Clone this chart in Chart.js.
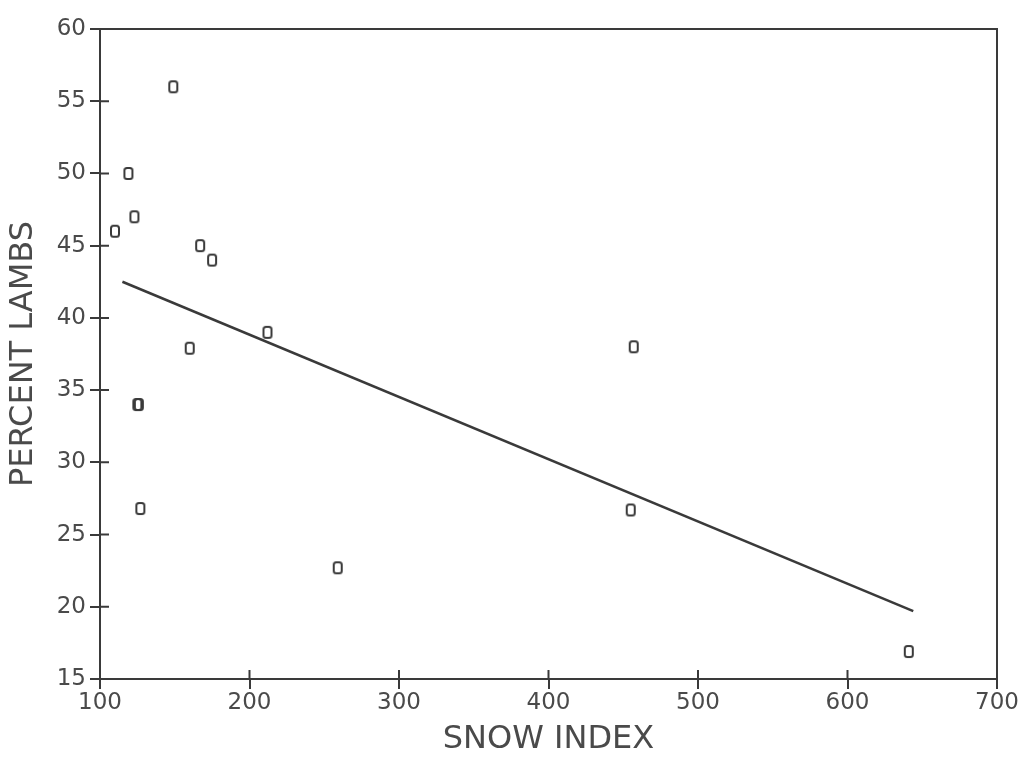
<!DOCTYPE html>
<html>
<head>
<meta charset="utf-8">
<script src="https://cdn.jsdelivr.net/npm/chart.js@4/dist/chart.umd.min.js"></script>
<style>
  html, body { margin: 0; padding: 0; background: #fff; }
  #grafico { display: block; }
</style>
</head>
<body>
<canvas id="grafico" width="1025" height="759"></canvas>
<script>
// valores
const snowIndex = [110, 119, 123, 125, 126, 127, 149, 160, 167, 175, 212, 259, 455, 457, 641];
const percentLambs = [46, 50, 47, 34, 34, 26.8, 56, 37.9, 45, 44, 39, 22.7, 26.7, 38, 16.9];

// reta de regressão (extremos)
const retaX = [115, 644];
const retaY = [42.5, 19.7];

const xTicks = [100, 200, 300, 400, 500, 600, 700];
const yTicks = [15, 20, 25, 30, 35, 40, 45, 50, 55, 60];

const corTraco = "#3a3a3a";
const corTexto = "#4a4a4a";

const pontos = snowIndex.map((x, i) => ({ x: x, y: percentLambs[i] }));
const reta = retaX.map((x, i) => ({ x: x, y: retaY[i] }));

// marcador tipo "0" do plotter
function criarMarcador() {
  const c = document.createElement("canvas");
  c.width = 12;
  c.height = 15;
  const g = c.getContext("2d");
  g.strokeStyle = corTraco;
  g.lineWidth = 2;
  g.beginPath();
  g.roundRect(2, 2, 8, 11, 2.5);
  g.stroke();
  return c;
}

// moldura + ticks que entram na área do gráfico
const moldura = {
  id: "moldura",
  afterDraw(chart) {
    const { ctx, chartArea: a, scales } = chart;
    ctx.save();
    ctx.strokeStyle = corTraco;
    ctx.lineWidth = 2;
    ctx.strokeRect(a.left, a.top, a.right - a.left, a.bottom - a.top);
    ctx.beginPath();
    xTicks.forEach(v => {
      const px = scales.x.getPixelForValue(v);
      ctx.moveTo(px, a.bottom);
      ctx.lineTo(px, a.bottom - 9);
    });
    yTicks.forEach(v => {
      const py = scales.y.getPixelForValue(v);
      ctx.moveTo(a.left, py);
      ctx.lineTo(a.left + 9, py);
    });
    ctx.stroke();
    ctx.restore();
  }
};

new Chart(document.getElementById("grafico"), {
  type: "scatter",
  data: {
    datasets: [
      {
        data: pontos,
        pointStyle: criarMarcador(),
        pointRadius: 6,
        borderColor: corTraco,
        backgroundColor: "rgba(0,0,0,0)"
      },
      {
        type: "line",
        data: reta,
        borderColor: corTraco,
        borderWidth: 2.5,
        pointRadius: 0,
        fill: false
      }
    ]
  },
  options: {
    responsive: false,
    animation: false,
    layout: { padding: { left: 0, top: 29, right: 28, bottom: 0 } },
    plugins: {
      legend: { display: false },
      tooltip: { enabled: false }
    },
    scales: {
      x: {
        type: "linear",
        min: 100,
        max: 700,
        afterBuildTicks: s => { s.ticks = xTicks.map(v => ({ value: v })); },
        afterFit: s => { s.height = 80; },
        grid: { drawOnChartArea: false, tickLength: 10, color: corTraco, lineWidth: 2 },
        border: { color: corTraco, width: 2 },
        ticks: { color: corTexto, font: { family: "DejaVu Sans", size: 23 }, padding: 0, maxRotation: 0 },
        title: { display: true, text: "SNOW INDEX", color: corTexto, font: { family: "DejaVu Sans", size: 32 }, padding: { top: 0, bottom: 0 } }
      },
      y: {
        type: "linear",
        min: 15,
        max: 60,
        afterBuildTicks: s => { s.ticks = yTicks.map(v => ({ value: v })); },
        afterFit: s => { s.width = 100; },
        grid: { drawOnChartArea: false, tickLength: 10, color: corTraco, lineWidth: 2 },
        border: { color: corTraco, width: 2 },
        ticks: { color: corTexto, font: { family: "DejaVu Sans", size: 23 }, padding: 4 },
        title: { display: true, text: "PERCENT LAMBS", color: corTexto, font: { family: "DejaVu Sans", size: 32 }, padding: { top: 4, bottom: 0 } }
      }
    }
  },
  plugins: [moldura]
});
</script>
</body>
</html>
